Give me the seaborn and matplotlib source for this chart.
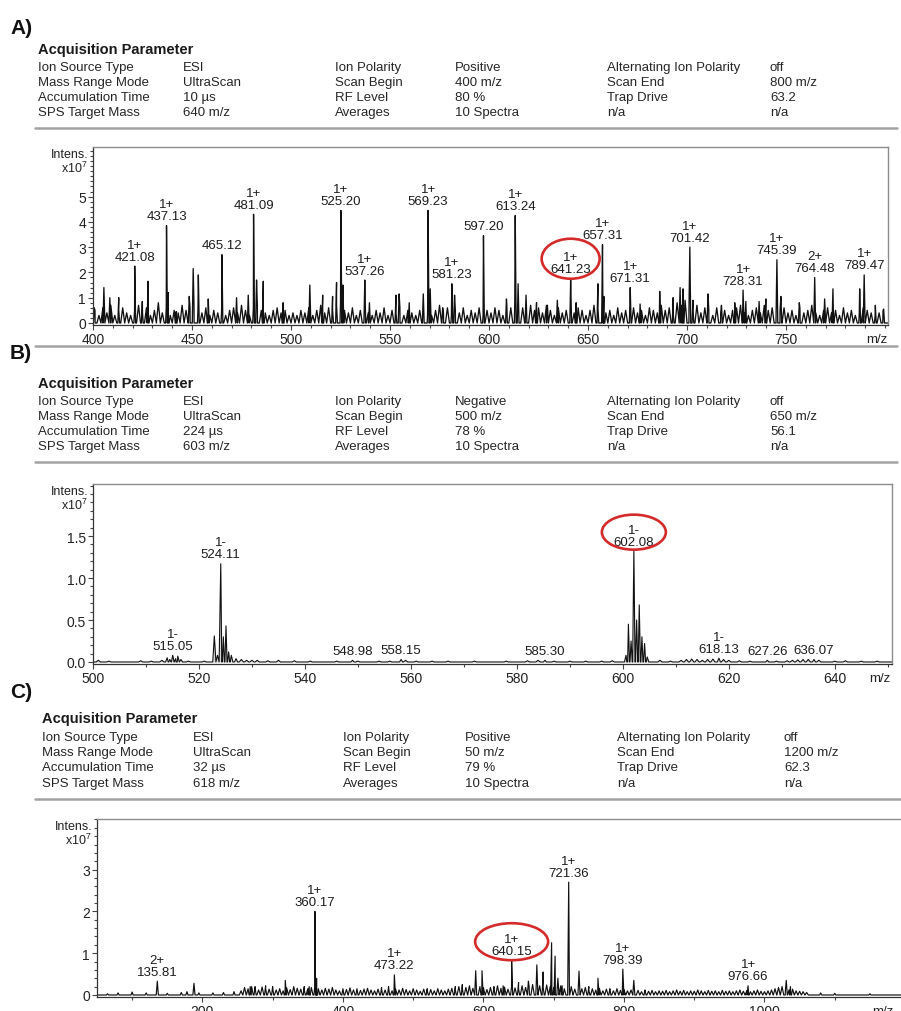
import numpy as np
import pandas as pd
import matplotlib
matplotlib.use("Agg")
import matplotlib.pyplot as plt
import seaborn as sns
from matplotlib.patches import Ellipse
from matplotlib.lines import Line2D
from matplotlib.ticker import FixedLocator, MultipleLocator, FormatStrFormatter
from matplotlib.transforms import Affine2D, ScaledTranslation

# ---------------------------------------------------------------- parameters
param_names_1 = ["Ion Source Type", "Mass Range Mode", "Accumulation Time", "SPS Target Mass"]
param_names_2 = ["Ion Polarity", "Scan Begin", "RF Level", "Averages"]
param_names_3 = ["Alternating Ion Polarity", "Scan End", "Trap Drive", "n/a"]

a_values_1 = ["ESI", "UltraScan", "10 µs", "640 m/z"]
a_values_2 = ["Positive", "400 m/z", "80 %", "10 Spectra"]
a_values_3 = ["off", "800 m/z", "63.2", "n/a"]

b_values_1 = ["ESI", "UltraScan", "224 µs", "603 m/z"]
b_values_2 = ["Negative", "500 m/z", "78 %", "10 Spectra"]
b_values_3 = ["off", "650 m/z", "56.1", "n/a"]

c_values_1 = ["ESI", "UltraScan", "32 µs", "618 m/z"]
c_values_2 = ["Positive", "50 m/z", "79 %", "10 Spectra"]
c_values_3 = ["off", "1200 m/z", "62.3", "n/a"]

# ---------------------------------------------------------------- spectrum A (positive, 400-800)
a_peak_mz = [421.08, 437.13, 465.12, 481.09, 525.20, 537.26, 569.23, 581.23, 597.20,
             613.24, 641.23, 657.31, 671.31, 701.42, 728.31, 745.39, 764.48, 789.47]
a_peak_int = [2.25, 3.85, 2.7, 4.3, 4.45, 1.7, 4.45, 1.55, 3.45,
              4.25, 1.75, 3.1, 1.4, 3.0, 1.3, 2.5, 1.8, 1.9]
a_peak_charge = ["1+", "1+", "", "1+", "1+", "1+", "1+", "1+", "",
                 "1+", "1+", "1+", "1+", "1+", "1+", "1+", "2+", "1+"]
a_marked = 641.23

a_minor_mz = [400.6, 405.5, 408.5, 413.0, 424.9, 427.8, 438.0, 442.0, 448.6, 450.6,
              453.2, 458.2, 472.5, 478.4, 482.6, 486.0, 496.0, 509.5, 516.0, 521.0,
              523.0, 526.2, 539.6, 553.0, 554.6, 559.7, 566.8, 570.3, 576.6, 582.6,
              608.8, 614.7, 618.7, 624.0, 629.5, 634.5, 644.0, 655.0, 658.0, 676.3,
              686.2, 693.0, 696.5, 698.0, 703.0, 710.6, 717.4, 724.1, 729.7, 736.4,
              739.8, 747.4, 756.7, 769.5, 773.7, 787.2, 795.1, 799.3]
a_minor_int = [0.6, 1.4, 1.0, 1.0, 0.85, 1.65, 1.2, 0.45, 1.05, 2.15,
               1.9, 0.95, 1.0, 1.1, 1.7, 1.65, 0.8, 1.5, 1.1, 1.05,
               1.6, 1.5, 0.8, 1.1, 1.15, 0.8, 1.15, 1.35, 0.6, 1.1,
               0.95, 1.55, 1.1, 0.8, 0.7, 0.9, 0.8, 1.55, 1.05, 0.75,
               1.25, 1.0, 1.4, 1.35, 0.9, 1.15, 0.7, 0.8, 0.85, 0.85,
               0.95, 1.05, 0.8, 0.95, 1.35, 1.35, 0.7, 0.55]

# chemical noise, one reading every 2 m/z from 401 upwards
a_noise_start, a_noise_step = 401, 2
a_noise_int = [
    0.5, 0.3, 0.6, 0.4, 0.7, 0.3, 0.5, 0.6, 0.4, 0.3, 0.5, 0.7, 0.4, 0.6, 0.3, 0.5, 0.8, 0.4, 0.6, 0.3, 0.5, 0.4, 0.7, 0.5, 0.6,
    0.7, 0.5, 0.4, 0.6, 0.3, 0.5, 0.4, 0.6, 0.3, 0.5, 0.6, 0.4, 0.7, 0.5, 0.3, 0.6, 0.7, 0.5, 0.4, 0.3, 0.5, 0.6, 0.4, 0.5, 0.3,
    0.4, 0.3, 0.5, 0.4, 0.6, 0.3, 0.5, 0.7, 0.4, 0.6, 0.5, 0.7, 0.8, 0.5, 0.4, 0.6, 0.3, 0.5, 0.6, 0.4, 0.3, 0.5, 0.4, 0.6, 0.3,
    0.5, 0.4, 0.6, 0.3, 0.5, 0.4, 0.3, 0.5, 0.6, 0.4, 0.3, 0.5, 0.7, 0.4, 0.6, 0.3, 0.5, 0.4, 0.6, 0.3, 0.5, 0.4, 0.6, 0.3, 0.5,
    0.4, 0.6, 0.5, 0.3, 0.7, 0.6, 0.8, 0.5, 0.6, 0.4, 0.7, 0.5, 0.6, 0.4, 0.7, 0.5, 0.3, 0.6, 0.4, 0.5, 0.7, 0.4, 0.6, 0.5, 0.3,
    0.5, 0.7, 0.6, 0.8, 0.4, 0.5, 0.3, 0.6, 0.4, 0.5, 0.3, 0.6, 0.4, 0.5, 0.3, 0.6, 0.5, 0.4, 0.7, 0.5, 0.6, 0.4, 0.8, 0.7, 0.9,
    0.6, 0.5, 0.7, 0.4, 0.6, 0.5, 0.3, 0.6, 0.4, 0.5, 0.3, 0.5, 0.6, 0.7, 0.4, 0.3, 0.5, 0.6, 0.4, 0.7, 0.5, 0.6, 0.4, 0.5, 0.6,
    0.4, 0.5, 0.3, 0.6, 0.4, 0.5, 0.7, 0.4, 0.3, 0.5, 0.6, 0.4, 0.5, 0.3, 0.6, 0.4, 0.5, 0.3, 0.4, 0.6, 0.5, 0.4, 0.3, 0.4, 0.5,
]

# ---------------------------------------------------------------- spectrum B (negative, 500-650)
b_peak_mz = [515.05, 524.11, 548.98, 558.15, 585.30, 602.08, 618.13, 627.26, 636.07]
b_peak_int = [0.08, 1.17, 0.02, 0.03, 0.02, 1.32, 0.045, 0.02, 0.03]
b_peak_charge = ["1-", "1-", "", "", "", "1-", "1-", "", ""]
b_marked = 602.08

b_isotope_mz = [514.0, 514.5, 515.6, 516.0, 516.6,
                522.9, 523.5, 524.6, 525.1, 525.6, 526.1, 527.0,
                600.6, 601.05, 601.55, 602.6, 603.1, 603.6, 604.1, 604.6]
b_isotope_int = [0.05, 0.03, 0.04, 0.07, 0.03,
                 0.31, 0.08, 0.30, 0.43, 0.12, 0.08, 0.04,
                 0.08, 0.45, 0.25, 0.50, 0.68, 0.30, 0.22, 0.06]

b_noise_mz = [501, 503, 509, 511, 513, 518, 521, 528, 529, 530, 531, 533, 535, 538, 541,
              546, 550, 554, 556, 559, 561, 564, 567, 572, 578, 582, 584, 587, 590, 593,
              596, 598, 607, 609, 611, 612, 613, 614, 615, 616, 617, 619, 620, 622, 624,
              629, 631, 632, 633, 634, 635, 637, 640, 642, 645, 648]
b_noise_int = [0.02, 0.01, 0.015, 0.01, 0.02, 0.01, 0.01, 0.03, 0.02, 0.02, 0.02, 0.015, 0.02, 0.015, 0.01,
               0.01, 0.01, 0.01, 0.01, 0.02, 0.01, 0.01, 0.01, 0.01, 0.01, 0.015, 0.02, 0.01, 0.01, 0.01,
               0.01, 0.015, 0.02, 0.01, 0.02, 0.03, 0.035, 0.03, 0.02, 0.03, 0.035, 0.03, 0.02, 0.015, 0.01,
               0.01, 0.015, 0.02, 0.025, 0.03, 0.03, 0.02, 0.01, 0.015, 0.01, 0.01]

# ---------------------------------------------------------------- spectrum C (positive, 50-1200)
c_peak_mz = [135.81, 360.17, 473.22, 640.15, 721.36, 798.39, 976.66]
c_peak_int = [0.33, 2.0, 0.48, 0.82, 2.7, 0.62, 0.22]
c_peak_charge = ["2+", "1+", "1+", "1+", "1+", "1+", "1+"]
c_marked = 640.15

c_minor_mz = [65, 80, 100, 120, 150, 170, 178, 188, 195, 215,
              230, 245, 268, 275, 290, 300, 318, 345, 352, 362.5,
              400, 420, 455, 465, 520, 560, 570, 589, 598, 615,
              628, 650, 664, 676, 685, 697, 702, 706, 712, 736,
              750, 763, 780, 814, 830, 1031, 1037, 1080, 1100, 1150]
c_minor_int = [0.03, 0.05, 0.07, 0.05, 0.04, 0.06, 0.08, 0.28, 0.05, 0.05,
               0.06, 0.08, 0.2, 0.2, 0.22, 0.2, 0.35, 0.2, 0.2, 0.4,
               0.15, 0.15, 0.18, 0.2, 0.15, 0.2, 0.25, 0.58, 0.58, 0.2,
               0.22, 0.3, 0.33, 0.72, 0.55, 1.25, 0.93, 0.4, 0.22, 0.57,
               0.2, 0.4, 0.15, 0.35, 0.12, 0.35, 0.2, 0.05, 0.04, 0.03]

# chemical noise, one reading every 5 m/z from 255 upwards
c_noise_start, c_noise_step = 255, 5
c_noise_int = [
    0.10, 0.18, 0.15, 0.20, 0.17, 0.12, 0.19, 0.16, 0.14, 0.18, 0.12, 0.15, 0.10, 0.17, 0.13, 0.20, 0.16, 0.14, 0.12, 0.15,
    0.18, 0.20, 0.15, 0.12, 0.16, 0.14, 0.18, 0.12, 0.10, 0.15, 0.13, 0.17, 0.12, 0.15, 0.11, 0.14, 0.16, 0.12, 0.10, 0.14,
    0.15, 0.12, 0.18, 0.10, 0.14, 0.12, 0.16, 0.13, 0.10, 0.15, 0.12, 0.09, 0.14, 0.11, 0.13, 0.10, 0.15, 0.12, 0.10, 0.14,
    0.16, 0.12, 0.20, 0.15, 0.18, 0.22, 0.16, 0.14, 0.20, 0.17, 0.13, 0.18, 0.15, 0.22, 0.16, 0.19, 0.14, 0.20, 0.17, 0.15,
    0.22, 0.18, 0.20, 0.25, 0.18, 0.22, 0.19, 0.24, 0.20, 0.18, 0.16, 0.22, 0.15, 0.18, 0.20, 0.14, 0.17, 0.15, 0.18, 0.12,
    0.15, 0.12, 0.16, 0.10, 0.14, 0.12, 0.10, 0.15, 0.11, 0.13, 0.10, 0.12, 0.09, 0.11, 0.08, 0.10, 0.09, 0.11, 0.08, 0.10,
    0.09, 0.11, 0.08, 0.10, 0.12, 0.09, 0.11, 0.08, 0.10, 0.09, 0.12, 0.10, 0.08, 0.11, 0.09, 0.10, 0.08, 0.11, 0.09, 0.10,
    0.08, 0.10, 0.12, 0.09, 0.11, 0.08, 0.10, 0.12, 0.09, 0.08, 0.10, 0.12, 0.15, 0.18, 0.20, 0.16, 0.12, 0.14, 0.10, 0.09,
    0.08, 0.06,
]

# ---------------------------------------------------------------- style
sns.set_theme(style="white")
plt.rcParams["font.family"] = ["Liberation Sans", "DejaVu Sans"]
plt.rcParams["mathtext.fontset"] = "custom"
plt.rcParams["mathtext.rm"] = "Liberation Sans"
plt.rcParams["mathtext.default"] = "regular"

W, H = 901, 1012
fig = plt.figure(figsize=(W / 100, H / 100), dpi=100)
fig.patch.set_facecolor("white")


def fx(x):
    return x / W


def fy(y):
    return 1 - y / H


def header(letter, letter_y, title_y, rows_y, cols_x, columns):
    fig.text(fx(10), fy(letter_y), letter, fontsize=15, fontweight="bold",
             ha="left", va="center", color="#111111")
    fig.text(fx(cols_x[0]), fy(title_y), "Acquisition Parameter", fontsize=10.5,
             fontweight="bold", ha="left", va="center", color="#1a1a1a")
    for x, col in zip(cols_x, columns):
        for y, s in zip(rows_y, col):
            fig.text(fx(x), fy(y), s, fontsize=9.5, ha="left", va="center", color="#262626")


def rule(y, x0=35, x1=897):
    fig.add_artist(Line2D([fx(x0), fx(x1)], [fy(y), fy(y)], color="#a3a3a3", lw=1.8))


def spectrum_frame(groups, xlim):
    pts = [(xlim[0], 0.0), (xlim[1], 0.0)]
    for mzs, ints, hw in groups:
        for m, h in zip(mzs, ints):
            pts.extend([(m - hw, 0.0), (m, h), (m + hw, 0.0)])
    df = pd.DataFrame(pts, columns=["mz", "intensity"])
    return df.sort_values("mz", kind="mergesort").reset_index(drop=True)


def panel_axes(left, right, top, bottom):
    return fig.add_axes([fx(left), fy(bottom), fx(right) - fx(left), fy(top) - fy(bottom)])


def style_axes(ax, xlim, ylim, xticks, yticks, yfmt, xminor, yminor, mz_frac):
    ax.set_xlim(xlim)
    ax.set_ylim(ylim)
    ax.xaxis.set_major_locator(FixedLocator(xticks))
    ax.yaxis.set_major_locator(FixedLocator(yticks))
    ax.xaxis.set_minor_locator(MultipleLocator(xminor))
    ax.yaxis.set_minor_locator(MultipleLocator(yminor))
    ax.yaxis.set_major_formatter(FormatStrFormatter(yfmt))
    ax.set_xlabel("")
    ax.set_ylabel("")
    ax.tick_params(which="both", direction="out", color="#444444", width=0.8,
                   labelsize=10, labelcolor="#222222",
                   bottom=True, left=True, top=False, right=False)
    ax.tick_params(which="major", length=3.5, pad=1.5)
    ax.tick_params(which="minor", length=2.0)
    for side in ("top", "right"):
        ax.spines[side].set_color("#8c8c8c")
        ax.spines[side].set_linewidth(1.0)
    for side in ("left", "bottom"):
        ax.spines[side].set_color("#333333")
        ax.spines[side].set_linewidth(0.9)
    ax.annotate("Intens.", xy=(0, 1), xycoords="axes fraction", xytext=(-4, -7),
                textcoords="offset pixels", ha="right", va="center", fontsize=9, color="#222222")
    ax.annotate(r"x10$^7$", xy=(0, 1), xycoords="axes fraction", xytext=(-5, -20),
                textcoords="offset pixels", ha="right", va="center", fontsize=9, color="#222222")
    ax.annotate("m/z", xy=(mz_frac, 0), xycoords="axes fraction", xytext=(0, -14),
                textcoords="offset pixels", ha="center", va="center", fontsize=9.5, color="#222222")


def draw_trace(ax, df, lw=0.75, fill=False):
    if fill:
        ax.fill_between(df["mz"], df["intensity"], 0, color="#d6d6d6", lw=0, zorder=1)
    sns.lineplot(data=df, x="mz", y="intensity", ax=ax, color="#111111", lw=lw,
                 estimator=None, sort=False, zorder=2)


def label_peaks(ax, mzs, ints, charges):
    for m, h, z in zip(mzs, ints, charges):
        txt = f"{z}\n{m:.2f}" if z else f"{m:.2f}"
        ax.annotate(txt, xy=(m, h), xytext=(0, 2.5), textcoords="offset points",
                    ha="center", va="bottom", fontsize=9.5, linespacing=1.0,
                    color="#1c1c1c", zorder=4)


def ring_peak(ax, mzs, ints, target, w_px, h_px, dy_px):
    h = ints[mzs.index(target)]
    tr = Affine2D().translate(0, dy_px) + ScaledTranslation(target, h, ax.transData)
    ax.add_artist(Ellipse((0, 0), w_px, h_px, transform=tr, fill=False,
                          ec="#d42a2a", lw=1.9, clip_on=False, zorder=5))


# ---------------------------------------------------------------- panel A
header("A)", 28, 50, [68, 83, 98, 113], [38, 183, 335, 455, 607, 770],
       [param_names_1, a_values_1, param_names_2, a_values_2, param_names_3, a_values_3])
rule(129)
rule(347)

a_xlim = (400, 801.5)
a_noise_mz = a_noise_start + a_noise_step * np.arange(len(a_noise_int))
df_a = spectrum_frame([(a_peak_mz, a_peak_int, 0.45),
                       (a_minor_mz, a_minor_int, 0.45),
                       (a_noise_mz, a_noise_int, 1.0)], a_xlim)
ax_a = panel_axes(93, 888, 148, 326)
draw_trace(ax_a, df_a, lw=0.95)
label_peaks(ax_a, a_peak_mz, a_peak_int, a_peak_charge)
ring_peak(ax_a, a_peak_mz, a_peak_int, a_marked, 58, 40, 20)
style_axes(ax_a, a_xlim, (-0.08, 6.96), [400, 450, 500, 550, 600, 650, 700, 750],
           [0, 1, 2, 3, 4, 5], "%d", 10, 0.2, 0.986)

# ---------------------------------------------------------------- panel B
header("B)", 354, 384, [402, 417, 432, 447], [38, 183, 335, 455, 607, 770],
       [param_names_1, b_values_1, param_names_2, b_values_2, param_names_3, b_values_3])
rule(463)

b_xlim = (500, 650.8)
df_b = spectrum_frame([(b_peak_mz, b_peak_int, 0.3),
                       (b_isotope_mz, b_isotope_int, 0.3),
                       (b_noise_mz, b_noise_int, 0.4)], b_xlim)
ax_b = panel_axes(93, 892, 485, 665)
draw_trace(ax_b, df_b, lw=0.8, fill=True)
label_peaks(ax_b, b_peak_mz, b_peak_int, b_peak_charge)
ring_peak(ax_b, b_peak_mz, b_peak_int, b_marked, 64, 35, 19)
style_axes(ax_b, b_xlim, (-0.024, 2.12), [500, 520, 540, 560, 580, 600, 620, 640],
           [0.0, 0.5, 1.0, 1.5], "%.1f", 10, 0.1, 0.985)

# ---------------------------------------------------------------- panel C
header("C)", 693, 719, [738, 753, 768, 784], [42, 193, 343, 465, 617, 784],
       [param_names_1, c_values_1, param_names_2, c_values_2, param_names_3, c_values_3])
rule(800, 35, 901)

c_xlim = (50, 1200)
c_noise_mz = c_noise_start + c_noise_step * np.arange(len(c_noise_int))
df_c = spectrum_frame([(c_peak_mz, c_peak_int, 1.5),
                       (c_minor_mz, c_minor_int, 1.5),
                       (c_noise_mz, c_noise_int, 2.4)], c_xlim)
ax_c = panel_axes(97, 905, 820, 998)
draw_trace(ax_c, df_c, lw=0.85)
label_peaks(ax_c, c_peak_mz, c_peak_int, c_peak_charge)
ring_peak(ax_c, c_peak_mz, c_peak_int, c_marked, 73, 37, 19)
style_axes(ax_c, c_xlim, (-0.048, 4.21), [200, 400, 600, 800, 1000],
           [0, 1, 2, 3], "%d", 100, 0.2, 0.973)

fig.savefig("out.png", dpi=100, facecolor="white")
